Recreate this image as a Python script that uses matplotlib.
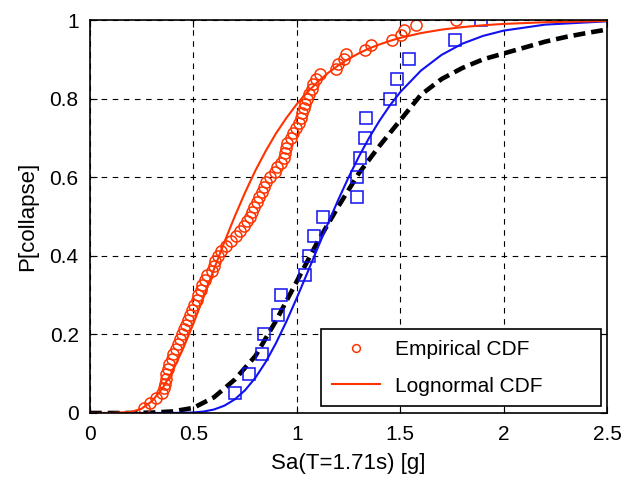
import matplotlib
matplotlib.use("Agg")
import matplotlib.pyplot as plt

plt.rcParams['font.family'] = ['Liberation Sans', 'DejaVu Sans']

# Empirical CDF points (red circles): x values, y = k/80
emp_red_x = [0.26, 0.29, 0.32, 0.35, 0.36, 0.365, 0.368, 0.37, 0.377, 0.384,
             0.395, 0.404, 0.414, 0.424, 0.434, 0.444, 0.454, 0.464, 0.474, 0.483,
             0.492, 0.505, 0.516, 0.525, 0.535, 0.544, 0.556, 0.568, 0.588, 0.598,
             0.607, 0.617, 0.632, 0.656, 0.683, 0.705, 0.728, 0.745, 0.76, 0.772,
             0.782, 0.795, 0.808, 0.817, 0.83, 0.84, 0.852, 0.872, 0.893, 0.905,
             0.925, 0.937, 0.943, 0.95, 0.955, 0.97, 0.982, 0.995, 1.012, 1.02,
             1.026, 1.033, 1.04, 1.05, 1.06, 1.072, 1.08, 1.095, 1.11, 1.19,
             1.2, 1.23, 1.24, 1.33, 1.357, 1.46, 1.505, 1.52, 1.575, 1.77]
emp_red_y = [(k + 1) / 80 for k in range(len(emp_red_x))]

# Empirical points (blue squares), y = k/20
emp_blue_x = [0.70, 0.77, 0.83, 0.84, 0.91, 0.925, 1.04, 1.06, 1.085, 1.125,
              1.29, 1.29, 1.305, 1.33, 1.335, 1.45, 1.485, 1.54, 1.765, 1.89]
emp_blue_y = [(k + 1) / 20 for k in range(len(emp_blue_x))]

# Lognormal CDF curves
red_x = [0.0, 0.1, 0.2, 0.25, 0.3, 0.35, 0.4, 0.45, 0.5, 0.55, 0.6, 0.65, 0.7,
         0.75, 0.8, 0.85, 0.9, 0.95, 1.0, 1.05, 1.1, 1.15, 1.2, 1.25, 1.3, 1.35,
         1.4, 1.45, 1.5, 1.6, 1.7, 1.8, 1.9, 2.0, 2.2, 2.5]
red_y = [0.0, 0.0, 0.0027, 0.011, 0.030, 0.062, 0.107, 0.163, 0.227, 0.296, 0.366,
         0.435, 0.5, 0.561, 0.617, 0.667, 0.712, 0.751, 0.786, 0.816, 0.842, 0.865,
         0.8845, 0.901, 0.9155, 0.928, 0.938, 0.947, 0.9548, 0.9669, 0.9757,
         0.9821, 0.9868, 0.9902, 0.9945, 0.9977]

blue_x = [0.0, 0.3, 0.4, 0.5, 0.55, 0.6, 0.65, 0.7, 0.75, 0.8, 0.85, 0.9, 0.95,
          1.0, 1.05, 1.1, 1.15, 1.2, 1.25, 1.3, 1.35, 1.4, 1.45, 1.5, 1.6, 1.7,
          1.8, 1.9, 2.0, 2.2, 2.5]
blue_y = [0.0, 0.0, 0.0001, 0.0013, 0.0037, 0.0089, 0.0186, 0.0345, 0.0579, 0.0897,
          0.130, 0.1783, 0.2331, 0.2927, 0.3553, 0.4188, 0.4815, 0.5421, 0.5994,
          0.6524, 0.7007, 0.744, 0.7827, 0.8166, 0.8714, 0.9115, 0.9399, 0.9597,
          0.9732, 0.9884, 0.9968]

black_x = [0.0, 0.2, 0.3, 0.4, 0.5, 0.6, 0.7, 0.8, 0.9, 1.0, 1.1, 1.2, 1.3, 1.4,
           1.5, 1.6, 1.7, 1.8, 1.9, 2.0, 2.1, 2.2, 2.3, 2.4, 2.5]
black_y = [0.0, 0.0, 0.001, 0.004, 0.013, 0.04, 0.085, 0.145, 0.235, 0.335, 0.435,
           0.525, 0.61, 0.68, 0.745, 0.81, 0.85, 0.878, 0.9, 0.915, 0.93, 0.945,
           0.957, 0.967, 0.976]

red = '#ff3300'
blue = '#1010f0'

fig = plt.figure(figsize=(6.24, 4.78), dpi=100)
ax = fig.add_axes([0.144, 0.136, 0.829, 0.822])

ax.plot(black_x, black_y, color='black', lw=3.3, dashes=(2.6, 1.3))
ax.plot(blue_x, blue_y, color=blue, lw=1.5)
ax.plot(emp_blue_x, emp_blue_y, 's', mfc='none', mec=blue, ms=8, mew=1.1)
ax.plot(emp_red_x, emp_red_y, 'o', mfc='none', mec=red, ms=8, mew=1.1,
        label='Empirical CDF')
ax.plot(red_x, red_y, color=red, lw=1.5, label='Lognormal CDF')

ax.set_xlim(0, 2.5)
ax.set_ylim(0, 1)
ax.set_xticks([0, 0.5, 1, 1.5, 2, 2.5])
ax.set_xticklabels(['0', '0.5', '1', '1.5', '2', '2.5'])
ax.set_yticks([0, 0.2, 0.4, 0.6, 0.8, 1])
ax.set_yticklabels(['0', '0.2', '0.4', '0.6', '0.8', '1'])
ax.tick_params(direction='in', top=True, right=True, labelsize=15, length=5)
ax.tick_params(axis='x', pad=9)
ax.tick_params(axis='y', pad=8)
ax.grid(True, color='black', ls=(0, (5, 5)), lw=0.8)
for s in ax.spines.values():
    s.set_linewidth(1.2)

ax.set_xlabel('Sa(T=1.71s) [g]', fontsize=16, labelpad=6)
ax.set_ylabel('P[collapse]', fontsize=16, labelpad=8)

# legend box stretched to the same width as in the original
leg = ax.legend(loc='lower left', bbox_to_anchor=(0.447, 0.018, 0.541, 0.2),
                mode='expand', fontsize=15, fancybox=False, framealpha=1,
                edgecolor='black', borderpad=0.5, labelspacing=0.85,
                handlelength=2.35, handletextpad=0.7, borderaxespad=0,
                markerscale=0.7)
leg.get_frame().set_linewidth(1.2)

fig.savefig('out.png', dpi=100)
